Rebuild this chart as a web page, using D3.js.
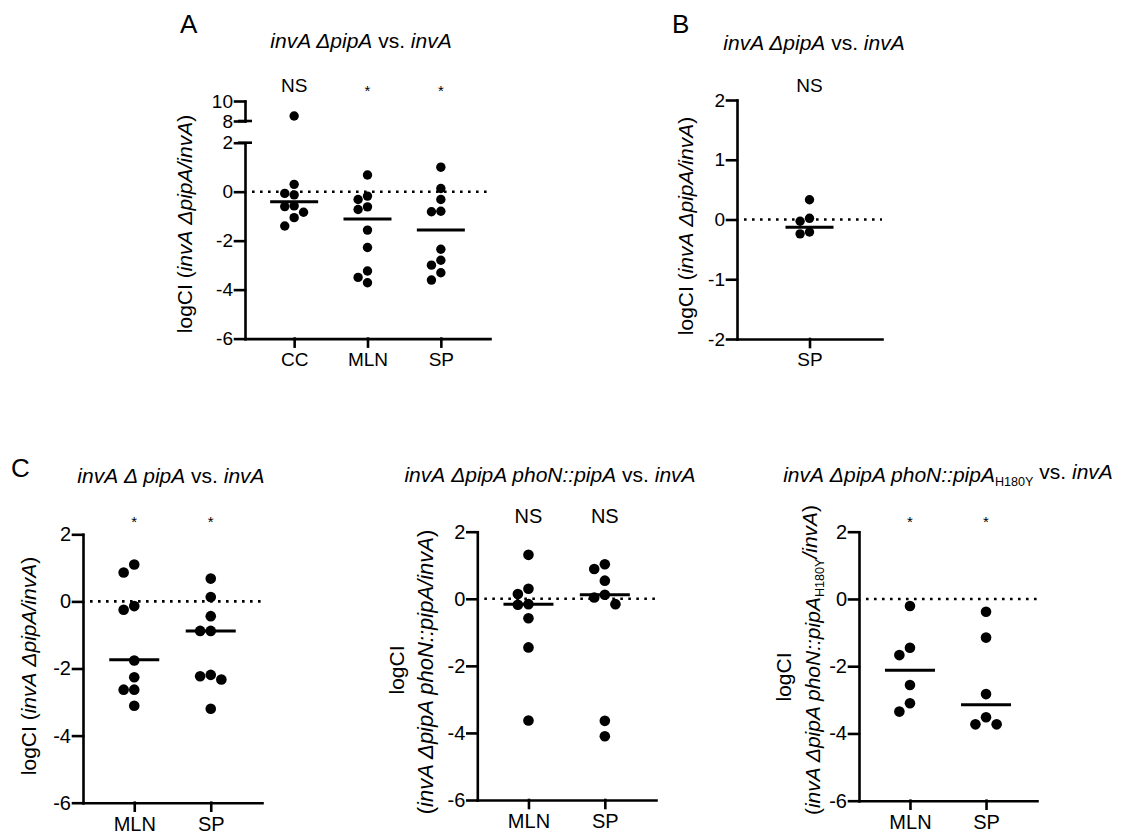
<!DOCTYPE html>
<html>
<head>
<meta charset="utf-8">
<script src="https://cdn.jsdelivr.net/npm/d3@7"></script>
<style>
  body { margin: 0; background: #fff; }
  svg { display: block; }
</style>
</head>
<body>
<div id="chart"></div>
<script>
// data (log competitive index per mouse)

// panel A: invA dpipA vs invA
const aCats = ["CC", "MLN", "SP"];
const aCC = [8.5, 0.3, -0.07, -0.13, -0.58, -0.61, -0.84, -1.06, -1.4];
const aMLN = [0.68, -0.18, -0.32, -0.62, -0.73, -1.57, -2.28, -3.24, -3.5, -3.72];
const aSP = [1.0, 0.13, -0.32, -0.8, -0.82, -2.35, -2.8, -3.0, -3.31, -3.61];
const aMedians = [-0.41, -1.12, -1.57];
const aSig = ["NS", "*", "*"];
const aTicks = [-6, -4, -2, 0, 2];
const aTicksHigh = [8, 10];

// panel B
const bCats = ["SP"];
const bSP = [0.33, 0.02, -0.03, -0.21, -0.24];
const bMedians = [-0.13];
const bSig = ["NS"];
const bTicks = [-2, -1, 0, 1, 2];

// panel C, left
const cCats = ["MLN", "SP"];
const c1MLN = [1.1, 0.86, -0.14, -0.25, -1.76, -2.26, -2.63, -2.63, -3.11];
const c1SP = [0.68, 0.13, -0.44, -0.88, -0.88, -2.19, -2.23, -2.33, -3.2];
const c1Medians = [-1.74, -0.88];
const c1Sig = ["*", "*"];

// panel C, middle (complemented)
const c2MLN = [1.31, 0.3, 0.14, -0.16, -0.18, -0.58, -1.45, -3.63];
const c2SP = [1.03, 0.89, 0.54, 0.12, 0.04, -0.16, -3.64, -4.1];
const c2Medians = [-0.16, 0.12];
const c2Sig = ["NS", "NS"];

// panel C, right (H180Y)
const c3MLN = [-0.21, -1.45, -1.67, -2.56, -3.1, -3.35];
const c3SP = [-0.38, -1.15, -2.83, -3.52, -3.73, -3.73];
const c3Medians = [-2.12, -3.15];
const c3Sig = ["*", "*"];

const cTicks = [-6, -4, -2, 0, 2];

const font = "Helvetica, Arial, 'Liberation Sans', sans-serif";

const svg = d3.select("#chart").append("svg")
  .attr("width", 1130)
  .attr("height", 834)
  .style("font-family", font);

// text made of pieces: [string, "i" italic | "n" normal | "s" subscript]
function richText(sel, parts) {
  let shifted = false;
  parts.forEach(p => {
    const t = sel.append("tspan").text(p[0]);
    t.attr("font-style", p[1] === "i" ? "italic" : "normal");
    if (p[1] === "s") {
      t.attr("font-size", "0.6em").attr("dy", "0.3em");
      shifted = true;
    } else if (shifted) {
      t.attr("dy", "-0.3em");
      shifted = false;
    }
  });
  return sel;
}

// simple swarm: put each dot in the nearest free lane
function swarm(vals, yOf, r) {
  const order = d3.range(vals.length).sort((a, b) => vals[b] - vals[a]);
  const placed = [];
  const off = new Array(vals.length).fill(0);
  const lanes = [0, -1, 1, -2, 2];
  for (const i of order) {
    const py = yOf(vals[i]);
    for (const l of lanes) {
      const px = l * 2 * r;
      if (placed.every(p => Math.hypot(p[0] - px, p[1] - py) >= 2 * r - 0.01)) {
        off[i] = px;
        placed.push([px, py]);
        break;
      }
    }
  }
  return off;
}

function styleAxis(g, fs) {
  g.selectAll("path, line").attr("stroke", "#000").attr("stroke-width", 2.6)
    .attr("stroke-linecap", "square");
  g.selectAll("text").attr("font-size", fs).attr("font-family", font).attr("fill", "#000");
}

function drawPanel(o) {
  const g = svg.append("g");
  const x = d3.scalePoint().domain(o.cats).range([o.left, o.right]).padding(o.pad);
  const y = d3.scaleLinear().domain(o.domain).range([o.bottom, o.top]);
  let yHigh = null;
  if (o.high) yHigh = d3.scaleLinear().domain(o.high.domain).range([o.high.bottom, o.high.top]);
  const yOf = v => (yHigh && v > o.domain[1]) ? yHigh(v) : y(v);

  // zero reference line
  g.append("line")
    .attr("x1", o.left + 7).attr("x2", o.right)
    .attr("y1", y(0)).attr("y2", y(0))
    .attr("stroke", "#000").attr("stroke-width", 2.6)
    .attr("stroke-dasharray", "2.6,5.4");

  const ya = g.append("g").attr("transform", `translate(${o.left},0)`)
    .call(d3.axisLeft(y).tickValues(o.ticks).tickSize(10).tickSizeOuter(0)
      .tickPadding(2).tickFormat(d => String(d)));
  styleAxis(ya, o.fs);

  if (yHigh) {
    const yh = g.append("g").attr("transform", `translate(${o.left},0)`)
      .call(d3.axisLeft(yHigh).tickValues(o.high.ticks).tickSize(10).tickSizeOuter(0)
        .tickPadding(2).tickFormat(d => String(d)));
    styleAxis(yh, o.fs);
    // break caps
    [yHigh(o.high.domain[0]), y(o.domain[1])].forEach(yy => {
      g.append("line").attr("x1", o.left - 7).attr("x2", o.left + 7)
        .attr("y1", yy).attr("y2", yy)
        .attr("stroke", "#000").attr("stroke-width", 2.6);
    });
  }

  const xa = g.append("g").attr("transform", `translate(0,${o.bottom})`)
    .call(d3.axisBottom(x).tickSize(8).tickSizeOuter(0).tickPadding(o.xPad));
  styleAxis(xa, o.fs);

  o.series.forEach((vals, i) => {
    const cx = x(o.cats[i]);
    const off = swarm(vals, yOf, o.r);
    g.selectAll(null).data(vals).join("circle")
      .attr("cx", (d, j) => cx + off[j])
      .attr("cy", d => yOf(d))
      .attr("r", o.r)
      .attr("fill", "#000");
    g.append("line")
      .attr("x1", cx - o.medHalf).attr("x2", cx + o.medHalf)
      .attr("y1", y(o.medians[i])).attr("y2", y(o.medians[i]))
      .attr("stroke", "#000").attr("stroke-width", 3);
    const s = o.sig[i];
    g.append("text")
      .attr("x", cx)
      .attr("y", s === "*" ? o.sigY + 4 : o.sigY)
      .attr("text-anchor", "middle")
      .attr("font-size", s === "*" ? 15 : o.fs)
      .text(s);
  });

  // title
  richText(svg.append("text")
    .attr("x", o.titleX).attr("y", o.titleY)
    .attr("text-anchor", "middle")
    .attr("font-size", o.tfs), o.title);

  // y label(s)
  o.ylab.forEach(l => {
    richText(svg.append("text")
      .attr("transform", `translate(${l.x},${l.y}) rotate(-90)`)
      .attr("text-anchor", "middle")
      .attr("font-size", l.fs || o.tfs), l.parts);
  });
}

// panel letters
[["A", 180, 33], ["B", 672, 33], ["C", 11, 477]].forEach(d => {
  svg.append("text").attr("x", d[1]).attr("y", d[2])
    .attr("font-size", 26).text(d[0]);
});

const labelStd = [["logCI (", "n"], ["invA", "i"], [" ", "n"], ["ΔpipA/invA", "i"], [")", "n"]];

drawPanel({
  cats: aCats, series: [aCC, aMLN, aSP], medians: aMedians, sig: aSig,
  left: 245, right: 490, pad: 0.67, top: 142.7, bottom: 338.6,
  domain: [-6, 2], ticks: aTicks,
  high: { domain: [8, 10], ticks: aTicksHigh, top: 101, bottom: 121 },
  r: 4.7, medHalf: 24, fs: 19, tfs: 21, xPad: 6, sigY: 92,
  title: [["invA ΔpipA", "i"], [" vs. ", "n"], ["invA", "i"]],
  titleX: 361, titleY: 48,
  ylab: [{ x: 192, y: 224, parts: labelStd }]
});

drawPanel({
  cats: bCats, series: [bSP], medians: bMedians, sig: bSig,
  left: 737, right: 882, pad: 0.5, top: 100, bottom: 339,
  domain: [-2, 2], ticks: bTicks,
  r: 4.7, medHalf: 24, fs: 19, tfs: 21, xPad: 6, sigY: 92,
  title: [["invA ΔpipA", "i"], [" vs. ", "n"], ["invA", "i"]],
  titleX: 814, titleY: 50,
  ylab: [{ x: 693, y: 226, parts: labelStd }]
});

drawPanel({
  cats: cCats, series: [c1MLN, c1SP], medians: c1Medians, sig: c1Sig,
  left: 83, right: 262, pad: 0.67, top: 534.3, bottom: 802.7,
  domain: [-6, 2], ticks: cTicks,
  r: 5.3, medHalf: 25, fs: 20, tfs: 21, xPad: 6, sigY: 523,
  title: [["invA", "i"], [" ", "n"], ["Δ pipA", "i"], [" vs. ", "n"], ["invA", "i"]],
  titleX: 171, titleY: 483,
  ylab: [{ x: 36, y: 666, parts: labelStd }]
});

drawPanel({
  cats: cCats, series: [c2MLN, c2SP], medians: c2Medians, sig: c2Sig,
  left: 477.3, right: 656, pad: 0.67, top: 531.7, bottom: 800,
  domain: [-6, 2], ticks: cTicks,
  r: 5.3, medHalf: 25, fs: 20, tfs: 21, xPad: 6, sigY: 523,
  title: [["invA", "i"], [" ", "n"], ["ΔpipA phoN::pipA", "i"], [" vs. ", "n"], ["invA", "i"]],
  titleX: 550, titleY: 482,
  ylab: [
    { x: 404, y: 670, parts: [["logCI", "n"]] },
    { x: 433, y: 672, fs: 22, parts: [["(", "n"], ["invA ΔpipA phoN::pipA/invA", "i"], [")", "n"]] }
  ]
});

drawPanel({
  cats: cCats, series: [c3MLN, c3SP], medians: c3Medians, sig: c3Sig,
  left: 859, right: 1037, pad: 0.67, top: 531.7, bottom: 800.7,
  domain: [-6, 2], ticks: cTicks,
  r: 5.3, medHalf: 25, fs: 20, tfs: 21, xPad: 6, sigY: 523,
  title: [["invA", "i"], [" ", "n"], ["ΔpipA phoN::pipA", "i"], ["H180Y", "s"], [" vs. ", "n"], ["invA", "i"]],
  titleX: 948, titleY: 482,
  ylab: [
    { x: 791, y: 677, parts: [["logCI", "n"]] },
    { x: 820, y: 660, parts: [["(", "n"], ["invA ΔpipA phoN::pipA", "i"], ["H180Y", "s"], ["/invA", "i"], [")", "n"]] }
  ]
});
</script>
</body>
</html>
